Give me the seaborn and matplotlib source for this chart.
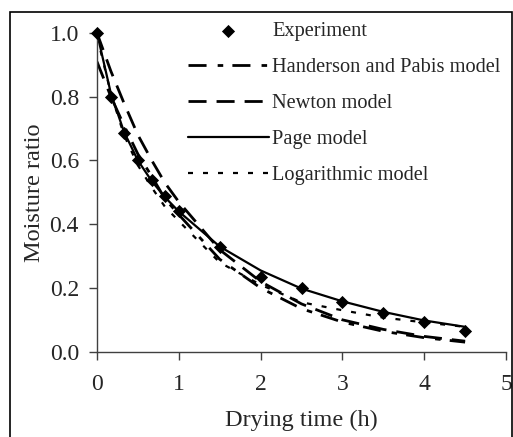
import matplotlib
matplotlib.use("Agg")
import matplotlib.pyplot as plt
import seaborn as sns
import pandas as pd
from matplotlib.patches import Rectangle

sns.set_style("ticks")
plt.rcParams["font.family"] = ["Liberation Serif", "DejaVu Serif"]

time_h = [0, 0.17, 0.33, 0.5, 0.67, 0.83, 1.0, 1.5, 2.0, 2.5, 3.0, 3.5, 4.0, 4.5]
experiment = [1.0, 0.80, 0.685, 0.60, 0.54, 0.49, 0.44, 0.33, 0.235, 0.20, 0.157, 0.12, 0.094, 0.065]
henderson = [0.91, 0.80, 0.71, 0.62, 0.55, 0.48, 0.43, 0.29, 0.20, 0.135, 0.093, 0.064, 0.044, 0.030]
newton = [1.0, 0.88, 0.78, 0.68, 0.60, 0.53, 0.47, 0.32, 0.22, 0.15, 0.10, 0.07, 0.048, 0.033]
page = [1.0, 0.81, 0.69, 0.60, 0.535, 0.485, 0.44, 0.33, 0.255, 0.198, 0.158, 0.125, 0.098, 0.078]
logarithmic = [0.99, 0.81, 0.68, 0.585, 0.515, 0.455, 0.41, 0.28, 0.21, 0.155, 0.13, 0.107, 0.092, 0.078]

labels = ["Experiment", "Handerson and Pabis model", "Newton model", "Page model", "Logarithmic model"]
xticks = [0, 1, 2, 3, 4, 5]
yticks = [0.0, 0.2, 0.4, 0.6, 0.8, 1.0]

df = pd.DataFrame({"t": time_h, "exp": experiment, "hp": henderson,
                   "nw": newton, "pg": page, "lg": logarithmic})

fig = plt.figure(figsize=(5.13, 4.37), dpi=100)
ax = fig.add_axes([97/513, 1 - 351.7/437, (506-97)/513, (351.7-33)/437])

# outer border
fig.patches.append(Rectangle((10/513, -0.01), 502/513, 1 - 12/437 + 0.01,
                             transform=fig.transFigure, fill=False,
                             edgecolor="black", linewidth=1.2))

lw = 2.0
sns.lineplot(data=df, x="t", y="pg", ax=ax, color="black", linewidth=1.6,
             label=labels[3], clip_on=False)
sns.lineplot(data=df, x="t", y="hp", ax=ax, color="black", linewidth=lw,
             label=labels[1])
sns.lineplot(data=df, x="t", y="nw", ax=ax, color="black", linewidth=lw,
             label=labels[2])
sns.lineplot(data=df, x="t", y="lg", ax=ax, color="black", linewidth=1.6,
             label=labels[4])
sns.scatterplot(data=df, x="t", y="exp", ax=ax, color="black", marker="D",
                s=45, edgecolor="black", linewidth=0, label=labels[0],
                clip_on=False, zorder=5)

lines = ax.get_lines()
lines[0].set_linestyle("-")
lines[1].set_dashes([6.5, 4, 2, 3.3])
lines[2].set_dashes([6.5, 3.6])
lines[3].set_dashes([2.25, 4.5])

ax.set_xlim(0, 5)
ax.set_ylim(0, 1.0)
ax.set_xticks(xticks)
ax.set_yticks(yticks)
ax.set_xticklabels([str(v) for v in xticks])
ax.set_yticklabels([f"{v:.1f}" for v in yticks])
ax.tick_params(axis="both", labelsize=17, length=6, width=1, color="#404040",
               direction="out")
ax.tick_params(axis="x", pad=10)
ax.tick_params(axis="y", pad=7)
for s in ["top", "right"]:
    ax.spines[s].set_visible(False)
for s in ["left", "bottom"]:
    ax.spines[s].set_color("#404040")
    ax.spines[s].set_linewidth(1.0)

ax.set_xlabel("Drying time (h)", fontsize=17.5, labelpad=11)
ax.set_ylabel("Moisture ratio", fontsize=17.5, labelpad=3)

handles, lbls = ax.get_legend_handles_labels()
order = [lbls.index(l) for l in labels]
leg = ax.legend([handles[i] for i in order], [lbls[i] for i in order],
                loc="upper left", bbox_to_anchor=(188/513, 1 - 22/437),
                bbox_transform=fig.transFigure, frameon=False, fontsize=14.7,
                handlelength=3.95, handletextpad=0.18, labelspacing=0.82,
                borderpad=0, borderaxespad=0)

fig.savefig("out.png", dpi=100)
